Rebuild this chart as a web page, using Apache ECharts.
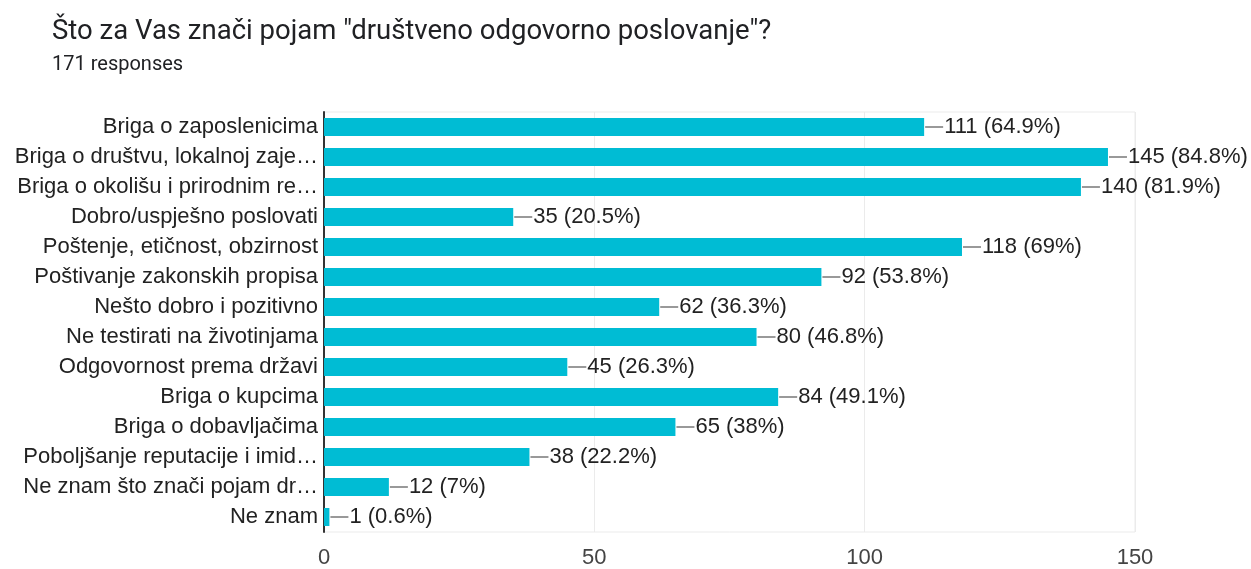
<!DOCTYPE html>
<html lang="hr">
<head>
    <meta charset="UTF-8">
    <title>Chart</title>
    <script src="https://cdn.jsdelivr.net/npm/echarts@6/dist/echarts.min.js"></script>
    <style>
        html, body { margin: 0; padding: 0; background: #fff; }
    </style>
</head>
<body>
    <div id="ec" style="width:1251px;height:569px"></div>
</body>
<script>
    var categories = [
        'Briga o zaposlenicima',
        'Briga o društvu, lokalnoj zaje…',
        'Briga o okolišu i prirodnim re…',
        'Dobro/uspješno poslovati',
        'Poštenje, etičnost, obzirnost',
        'Poštivanje zakonskih propisa',
        'Nešto dobro i pozitivno',
        'Ne testirati na životinjama',
        'Odgovornost prema državi',
        'Briga o kupcima',
        'Briga o dobavljačima',
        'Poboljšanje reputacije i imid…',
        'Ne znam što znači pojam dr…',
        'Ne znam'
    ]
    var counts = [111, 145, 140, 35, 118, 92, 62, 80, 45, 84, 65, 38, 12, 1]
    var percents = ['64.9', '84.8', '81.9', '20.5', '69', '53.8', '36.3', '46.8', '26.3', '49.1', '38', '22.2', '7', '0.6']
    var xTicks = [0, 50, 100, 150]

    var mychart = echarts.init(document.getElementById('ec'))
    var options = {
        animation: false,
        title: {
            text: 'Što za Vas znači pojam "društveno odgovorno poslovanje"?',
            subtext: '171 responses',
            left: 47,
            top: 13,
            itemGap: 9,
            textStyle: {
                fontFamily: 'Roboto',
                fontWeight: 'normal',
                fontSize: 27.5,
                color: '#202124'
            },
            subtextStyle: {
                fontFamily: 'Roboto',
                fontSize: 20,
                color: '#202124'
            }
        },
        grid: {
            left: 324,
            right: 116,
            top: 112,
            bottom: 36,
            show: true,
            borderColor: '#ebebeb',
            borderWidth: 1
        },
        xAxis: {
            type: 'value',
            min: xTicks[0],
            max: xTicks[xTicks.length - 1],
            interval: 50,
            axisLine: { show: false },
            axisTick: { show: false },
            splitLine: { lineStyle: { color: '#ebebeb' } },
            axisLabel: {
                fontFamily: 'Liberation Sans',
                fontSize: 22,
                color: '#444',
                margin: 15
            }
        },
        yAxis: {
            type: 'category',
            inverse: true,
            data: categories,
            axisLine: { show: true, lineStyle: { color: '#333', width: 2 } },
            axisTick: { show: false },
            axisLabel: {
                fontFamily: 'Liberation Sans',
                fontSize: 22,
                color: '#222',
                margin: 6
            }
        },
        series: [{
            type: 'bar',
            data: counts,
            barWidth: 18,
            itemStyle: { color: '#00bcd4' },
            label: {
                show: true,
                position: 'right',
                distance: 1,
                formatter: function (p) {
                    return '{l|}{t|' + p.value + ' (' + percents[p.dataIndex] + '%)}'
                },
                rich: {
                    l: { width: 18, height: 1.5, backgroundColor: '#777' },
                    t: {
                        fontFamily: 'Liberation Sans',
                        fontSize: 22,
                        color: '#222',
                        padding: [0, 0, 0, 1]
                    }
                }
            }
        }]
    }
    mychart.setOption(options)
</script>
</html>
